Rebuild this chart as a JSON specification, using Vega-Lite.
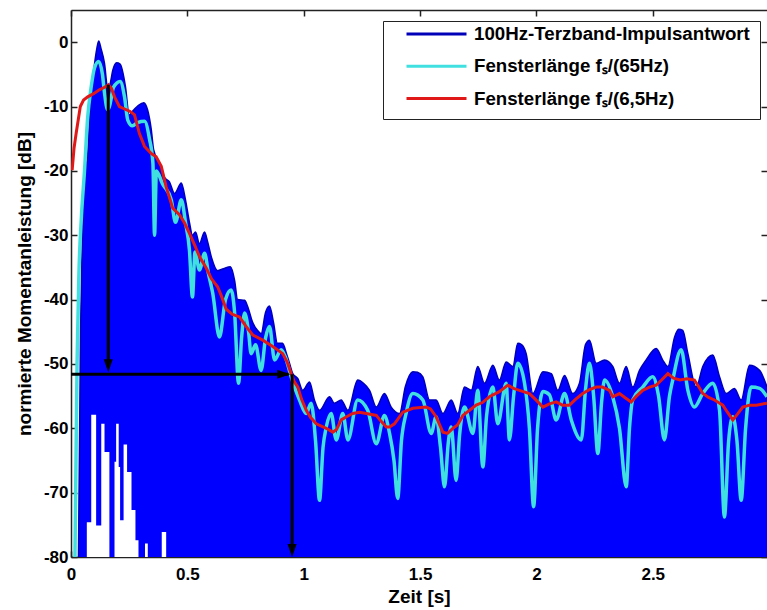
{
 "$schema": "https://vega.github.io/schema/vega-lite/v6.json",
 "width": 696, "height": 547,
 "autosize": {"type": "none"},
 "padding": {"left": 71, "top": 10, "right": 0, "bottom": 53},
 "background": "white",
 "datasets": {
  "env": [{"t":0.032,"db":-80},{"t":0.041,"db":-45},{"t":0.048,"db":-32},{"t":0.058,"db":-21.5},{"t":0.072,"db":-17.3},{"t":0.083,"db":-9.5},{"t":0.098,"db":-4.3},{"t":0.11,"db":-1.2},{"t":0.119,"db":0.2},{"t":0.129,"db":-1},{"t":0.144,"db":-3.3},{"t":0.158,"db":-7.3},{"t":0.168,"db":-6.5},{"t":0.18,"db":-4.3},{"t":0.196,"db":-3.2},{"t":0.211,"db":-3.4},{"t":0.234,"db":-6.9},{"t":0.25,"db":-11.3},{"t":0.268,"db":-10.6},{"t":0.29,"db":-9.8},{"t":0.313,"db":-9.4},{"t":0.329,"db":-10.5},{"t":0.345,"db":-13.6},{"t":0.355,"db":-16.7},{"t":0.38,"db":-18.8},{"t":0.402,"db":-21},{"t":0.423,"db":-21.7},{"t":0.445,"db":-23.5},{"t":0.474,"db":-21.9},{"t":0.492,"db":-24.5},{"t":0.509,"db":-28},{"t":0.522,"db":-30},{"t":0.535,"db":-29.5},{"t":0.552,"db":-31.3},{"t":0.574,"db":-29.5},{"t":0.587,"db":-31},{"t":0.604,"db":-33.5},{"t":0.63,"db":-35.5},{"t":0.655,"db":-35.2},{"t":0.685,"db":-34.9},{"t":0.703,"db":-37},{"t":0.716,"db":-40},{"t":0.746,"db":-40.1},{"t":0.763,"db":-41.5},{"t":0.78,"db":-43.5},{"t":0.802,"db":-44.8},{"t":0.817,"db":-45.3},{"t":0.836,"db":-42},{"t":0.853,"db":-41},{"t":0.87,"db":-43.5},{"t":0.887,"db":-46.8},{"t":0.909,"db":-46.8},{"t":0.926,"db":-48.4},{"t":0.939,"db":-49.9},{"t":0.953,"db":-51.5},{"t":0.975,"db":-52.3},{"t":0.996,"db":-54.1},{"t":1.025,"db":-52.8},{"t":1.046,"db":-55.6},{"t":1.068,"db":-57.2},{"t":1.111,"db":-55.1},{"t":1.132,"db":-56.1},{"t":1.161,"db":-55.6},{"t":1.19,"db":-57.2},{"t":1.232,"db":-52.5},{"t":1.257,"db":-53},{"t":1.283,"db":-54.1},{"t":1.312,"db":-56.7},{"t":1.347,"db":-54.6},{"t":1.376,"db":-56.7},{"t":1.412,"db":-57.7},{"t":1.437,"db":-53.5},{"t":1.469,"db":-51.2},{"t":1.489,"db":-51.3},{"t":1.512,"db":-52},{"t":1.541,"db":-55.6},{"t":1.569,"db":-55.6},{"t":1.598,"db":-57.7},{"t":1.634,"db":-55.6},{"t":1.662,"db":-57.7},{"t":1.691,"db":-53.6},{"t":1.72,"db":-54.1},{"t":1.748,"db":-50.4},{"t":1.777,"db":-53},{"t":1.813,"db":-50.2},{"t":1.841,"db":-52.5},{"t":1.87,"db":-49.7},{"t":1.899,"db":-50.4},{"t":1.92,"db":-46.8},{"t":1.936,"db":-47},{"t":1.956,"db":-48.4},{"t":1.985,"db":-54.6},{"t":2.028,"db":-51.2},{"t":2.064,"db":-51.5},{"t":2.092,"db":-54.1},{"t":2.121,"db":-51.8},{"t":2.156,"db":-54.6},{"t":2.185,"db":-53},{"t":2.211,"db":-47},{"t":2.228,"db":-46.3},{"t":2.257,"db":-49.9},{"t":2.293,"db":-49.4},{"t":2.328,"db":-50.4},{"t":2.357,"db":-53},{"t":2.386,"db":-50.4},{"t":2.414,"db":-53.6},{"t":2.443,"db":-51},{"t":2.471,"db":-49.4},{"t":2.515,"db":-47.6},{"t":2.543,"db":-49.4},{"t":2.565,"db":-50.4},{"t":2.594,"db":-45.8},{"t":2.611,"db":-44.6},{"t":2.629,"db":-44.8},{"t":2.651,"db":-48.4},{"t":2.687,"db":-53.6},{"t":2.715,"db":-50.4},{"t":2.758,"db":-48.6},{"t":2.787,"db":-52},{"t":2.816,"db":-54.6},{"t":2.851,"db":-53.8},{"t":2.88,"db":-55.6},{"t":2.916,"db":-50.2},{"t":2.959,"db":-51},{"t":2.991,"db":-53.6}],
  "white": [{"t":0.068,"db":-74.6},{"t":0.087,"db":-57.9},{"t":0.108,"db":-75.1},{"t":0.13,"db":-59.3},{"t":0.144,"db":-63.7},{"t":0.165,"db":-80},{"t":0.187,"db":-65.2},{"t":0.194,"db":-59.3},{"t":0.205,"db":-66},{"t":0.211,"db":-74.3},{"t":0.226,"db":-62.5},{"t":0.241,"db":-66.8},{"t":0.26,"db":-72.7},{"t":0.277,"db":-77.4},{"t":0.29,"db":-80},{"t":0.318,"db":-77.9},{"t":0.33,"db":-80},{"t":0.39,"db":-76.1},{"t":0.409,"db":-80}],
  "cyan": [{"t":0.017,"db":-80},{"t":0.026,"db":-50},{"t":0.034,"db":-36},{"t":0.045,"db":-27},{"t":0.058,"db":-20},{"t":0.071,"db":-12},{"t":0.087,"db":-6.9},{"t":0.101,"db":-4},{"t":0.119,"db":-3},{"t":0.135,"db":-5},{"t":0.144,"db":-7.9},{"t":0.157,"db":-10.5},{"t":0.165,"db":-10},{"t":0.183,"db":-7},{"t":0.211,"db":-6.1},{"t":0.23,"db":-8.5},{"t":0.244,"db":-12.1},{"t":0.264,"db":-13},{"t":0.286,"db":-12.5},{"t":0.316,"db":-12.3},{"t":0.337,"db":-15},{"t":0.352,"db":-18.8},{"t":0.359,"db":-30},{"t":0.367,"db":-20},{"t":0.393,"db":-22},{"t":0.431,"db":-24.5},{"t":0.449,"db":-28},{"t":0.474,"db":-24.5},{"t":0.492,"db":-28},{"t":0.509,"db":-32.3},{"t":0.522,"db":-39.6},{"t":0.533,"db":-32.6},{"t":0.552,"db":-35.4},{"t":0.574,"db":-32.8},{"t":0.591,"db":-36},{"t":0.609,"db":-39},{"t":0.638,"db":-45.8},{"t":0.664,"db":-40},{"t":0.688,"db":-38.5},{"t":0.703,"db":-42},{"t":0.72,"db":-53},{"t":0.733,"db":-46},{"t":0.746,"db":-42.1},{"t":0.763,"db":-45},{"t":0.774,"db":-48.4},{"t":0.793,"db":-47},{"t":0.817,"db":-51},{"t":0.836,"db":-46},{"t":0.853,"db":-44.2},{"t":0.875,"db":-49.4},{"t":0.903,"db":-47.8},{"t":0.922,"db":-49},{"t":0.946,"db":-52},{"t":0.982,"db":-55.6},{"t":1.011,"db":-57.7},{"t":1.032,"db":-56.1},{"t":1.051,"db":-62},{"t":1.068,"db":-71.2},{"t":1.083,"db":-63},{"t":1.097,"db":-59.8},{"t":1.118,"db":-57.7},{"t":1.14,"db":-61.8},{"t":1.168,"db":-57.7},{"t":1.19,"db":-61.8},{"t":1.232,"db":-55.6},{"t":1.275,"db":-57.2},{"t":1.312,"db":-62.4},{"t":1.347,"db":-58},{"t":1.369,"db":-60.8},{"t":1.388,"db":-65},{"t":1.404,"db":-70.9},{"t":1.42,"db":-62},{"t":1.44,"db":-57.7},{"t":1.469,"db":-54.6},{"t":1.512,"db":-55.6},{"t":1.548,"db":-60.8},{"t":1.569,"db":-58.2},{"t":1.588,"db":-63},{"t":1.605,"db":-69.1},{"t":1.622,"db":-62},{"t":1.634,"db":-59.8},{"t":1.655,"db":-68.1},{"t":1.67,"db":-61},{"t":1.691,"db":-56.7},{"t":1.727,"db":-60.8},{"t":1.748,"db":-54.1},{"t":1.77,"db":-66},{"t":1.786,"db":-58},{"t":1.813,"db":-53.6},{"t":1.834,"db":-59.3},{"t":1.87,"db":-53},{"t":1.884,"db":-61.8},{"t":1.902,"db":-55},{"t":1.92,"db":-49.9},{"t":1.949,"db":-53},{"t":1.97,"db":-60},{"t":1.988,"db":-72.2},{"t":2.005,"db":-60},{"t":2.028,"db":-54.3},{"t":2.056,"db":-54.8},{"t":2.085,"db":-58.7},{"t":2.121,"db":-54.6},{"t":2.15,"db":-58.7},{"t":2.193,"db":-61.8},{"t":2.211,"db":-54},{"t":2.228,"db":-49.9},{"t":2.246,"db":-55},{"t":2.264,"db":-63.9},{"t":2.28,"db":-56},{"t":2.293,"db":-52.5},{"t":2.328,"db":-55.1},{"t":2.357,"db":-60},{"t":2.386,"db":-69.1},{"t":2.4,"db":-60},{"t":2.414,"db":-55.6},{"t":2.457,"db":-53.6},{"t":2.5,"db":-52},{"t":2.525,"db":-55},{"t":2.55,"db":-61.8},{"t":2.572,"db":-55},{"t":2.586,"db":-52.5},{"t":2.622,"db":-47.8},{"t":2.651,"db":-54.1},{"t":2.679,"db":-56.7},{"t":2.715,"db":-54.6},{"t":2.758,"db":-53},{"t":2.787,"db":-57.2},{"t":2.808,"db":-73.8},{"t":2.826,"db":-62},{"t":2.844,"db":-58.2},{"t":2.862,"db":-62},{"t":2.88,"db":-71.2},{"t":2.899,"db":-60},{"t":2.923,"db":-53.6},{"t":2.959,"db":-53.8},{"t":2.991,"db":-55.1}],
  "red": [{"t":0.005,"db":-19.9},{"t":0.013,"db":-16.5},{"t":0.022,"db":-14.2},{"t":0.04,"db":-10},{"t":0.054,"db":-9},{"t":0.072,"db":-8.5},{"t":0.097,"db":-8},{"t":0.122,"db":-7.4},{"t":0.144,"db":-7},{"t":0.161,"db":-6.6},{"t":0.174,"db":-7.2},{"t":0.187,"db":-8.5},{"t":0.208,"db":-10},{"t":0.237,"db":-10.5},{"t":0.256,"db":-10.8},{"t":0.273,"db":-11.3},{"t":0.294,"db":-14.2},{"t":0.316,"db":-16.2},{"t":0.345,"db":-17.3},{"t":0.366,"db":-17.8},{"t":0.388,"db":-19.3},{"t":0.409,"db":-22.5},{"t":0.437,"db":-25.8},{"t":0.466,"db":-26.8},{"t":0.488,"db":-28.1},{"t":0.509,"db":-29.7},{"t":0.531,"db":-31.5},{"t":0.552,"db":-33.3},{"t":0.581,"db":-35.1},{"t":0.604,"db":-36.8},{"t":0.63,"db":-38},{"t":0.647,"db":-39.5},{"t":0.667,"db":-41.5},{"t":0.694,"db":-42.3},{"t":0.724,"db":-42.7},{"t":0.753,"db":-44.2},{"t":0.781,"db":-45.5},{"t":0.824,"db":-46.3},{"t":0.867,"db":-47.3},{"t":0.91,"db":-48.4},{"t":0.93,"db":-49.8},{"t":0.946,"db":-51.5},{"t":0.96,"db":-52.8},{"t":0.975,"db":-53.6},{"t":0.991,"db":-55.5},{"t":1.011,"db":-57.2},{"t":1.029,"db":-58.3},{"t":1.054,"db":-59.3},{"t":1.097,"db":-60},{"t":1.125,"db":-60.6},{"t":1.141,"db":-60.2},{"t":1.161,"db":-58.7},{"t":1.184,"db":-58.2},{"t":1.211,"db":-57.7},{"t":1.24,"db":-57.5},{"t":1.269,"db":-57.7},{"t":1.312,"db":-58},{"t":1.33,"db":-58.8},{"t":1.355,"db":-59.8},{"t":1.369,"db":-59.8},{"t":1.39,"db":-59.3},{"t":1.426,"db":-57.5},{"t":1.469,"db":-56.9},{"t":1.526,"db":-56.7},{"t":1.545,"db":-57},{"t":1.569,"db":-58.2},{"t":1.598,"db":-60.6},{"t":1.618,"db":-60.8},{"t":1.641,"db":-60},{"t":1.661,"db":-59.5},{"t":1.684,"db":-58},{"t":1.713,"db":-57.2},{"t":1.741,"db":-56.4},{"t":1.768,"db":-56},{"t":1.798,"db":-55.1},{"t":1.841,"db":-54.3},{"t":1.877,"db":-53.3},{"t":1.902,"db":-53.8},{"t":1.927,"db":-54.1},{"t":1.97,"db":-54.6},{"t":1.996,"db":-55.5},{"t":2.028,"db":-56.7},{"t":2.056,"db":-56.2},{"t":2.085,"db":-55.9},{"t":2.112,"db":-56.4},{"t":2.142,"db":-56.4},{"t":2.168,"db":-55.5},{"t":2.199,"db":-54.6},{"t":2.228,"db":-54},{"t":2.257,"db":-53.6},{"t":2.284,"db":-53.6},{"t":2.314,"db":-54.1},{"t":2.328,"db":-55.1},{"t":2.357,"db":-54.6},{"t":2.383,"db":-55.3},{"t":2.407,"db":-55.9},{"t":2.43,"db":-55},{"t":2.457,"db":-54.1},{"t":2.486,"db":-53.6},{"t":2.515,"db":-53.3},{"t":2.538,"db":-52.5},{"t":2.565,"db":-51.5},{"t":2.589,"db":-52.2},{"t":2.617,"db":-52.5},{"t":2.647,"db":-52.3},{"t":2.679,"db":-52.5},{"t":2.697,"db":-53.5},{"t":2.715,"db":-54.6},{"t":2.74,"db":-55.2},{"t":2.765,"db":-55.6},{"t":2.801,"db":-56.4},{"t":2.821,"db":-57.5},{"t":2.844,"db":-58.7},{"t":2.864,"db":-57.8},{"t":2.887,"db":-56.7},{"t":2.916,"db":-56.4},{"t":2.945,"db":-56.4},{"t":2.991,"db":-56.1}],
  "arrows": [{"t":0.16,"db":-6.6,"t2":0.16,"db2":-50.5},{"t":0,"db":-51.6,"t2":0.935,"db2":-51.6},{"t":0.95,"db":-51.6,"t2":0.95,"db2":-79}],
  "heads": [{"t":0.16,"db":-51.3,"dir":"down"},{"t":0.942,"db":-51.6,"dir":"right"},{"t":0.95,"db":-80,"dir":"down"}]
 },
 "encoding": {
  "x": {"field": "t", "type": "quantitative", "scale": {"domain": [0, 2.991], "nice": false, "zero": false}, "axis": null},
  "y": {"field": "db", "type": "quantitative", "scale": {"domain": [-80, 5], "nice": false, "zero": false}, "axis": null}
 },
 "layer": [
  {"data": {"name": "env"},
   "mark": {"type": "area", "interpolate": "monotone", "fill": "#0000ff", "clip": true},
   "encoding": {
    "x": {"field": "t", "type": "quantitative", "scale": {"domain": [0, 2.991], "nice": false, "zero": false},
          "axis": {"orient": "bottom", "title": "Zeit [s]", "values": [0, 0.5, 1, 1.5, 2, 2.5, 3], "labelExpr": "'' + datum.value", "tickSize": -6, "labelPadding": 15, "titlePadding": 5, "labelFlush": false, "labelOverlap": false}},
    "y": {"field": "db", "type": "quantitative", "scale": {"domain": [-80, 5], "nice": false, "zero": false},
          "axis": {"orient": "left", "title": "normierte Momentanleistung [dB]", "values": [-80, -70, -60, -50, -40, -30, -20, -10, 0], "labelExpr": "'' + datum.value", "tickSize": -6, "labelPadding": 9, "titlePadding": 9, "labelFlush": false, "labelOverlap": false}},
    "y2": {"datum": -80}
   }},
  {"data": {"name": "white"},
   "mark": {"type": "area", "interpolate": "step-after", "fill": "white", "clip": true},
   "encoding": {
    "x": {"field": "t", "type": "quantitative", "scale": {"domain": [0, 2.991], "nice": false, "zero": false},
          "axis": {"orient": "top", "title": null, "labels": false, "values": [0, 0.5, 1, 1.5, 2, 2.5], "tickSize": -6}},
    "y": {"field": "db", "type": "quantitative", "scale": {"domain": [-80, 5], "nice": false, "zero": false},
          "axis": {"orient": "right", "title": null, "labels": false, "domain": false, "values": [-80, -70, -60, -50, -40, -30, -20, -10, 0], "tickSize": -6}},
    "y2": {"datum": -80}
   }},
  {"data": {"name": "env"},
   "mark": {"type": "line", "interpolate": "monotone", "strokeWidth": 1.5, "clip": true},
   "encoding": {
    "color": {"datum": "100Hz-Terzband-Impulsantwort", "type": "nominal",
      "scale": {"domain": ["100Hz-Terzband-Impulsantwort", "Fensterlänge fₛ/(65Hz)", "Fensterlänge fₛ/(6,5Hz)"], "range": ["#0000b8", "#40e0e0", "#e01818"]},
      "legend": {"orient": "none", "legendX": 312, "legendY": 11, "title": null, "symbolType": "stroke", "symbolSize": 3600, "symbolStrokeWidth": 3, "clipHeight": 6, "rowPadding": 13.3, "padding": 10, "symbolOffset": 12, "labelOffset": 6, "labelLimit": 400, "strokeColor": "#222222", "fillColor": "white", "labelFont": "Liberation Sans", "labelFontSize": 18.7, "labelFontWeight": "bold", "labelColor": "black"}}
   }},
  {"data": {"name": "cyan"},
   "mark": {"type": "line", "interpolate": "monotone", "strokeWidth": 3.5, "clip": true},
   "encoding": {"color": {"datum": "Fensterlänge fₛ/(65Hz)", "type": "nominal"}}},
  {"data": {"name": "red"},
   "mark": {"type": "line", "strokeWidth": 3, "clip": true},
   "encoding": {"color": {"datum": "Fensterlänge fₛ/(6,5Hz)", "type": "nominal"}}},
  {"data": {"name": "arrows"},
   "mark": {"type": "rule", "strokeWidth": 3, "color": "black"},
   "encoding": {"x2": {"field": "t2"}, "y2": {"field": "db2"}}},
  {"data": {"name": "heads"},
   "mark": {"type": "point", "filled": true, "color": "black", "opacity": 1, "size": 169},
   "encoding": {"shape": {"field": "dir", "type": "nominal", "scale": {"domain": ["down", "right"], "range": ["M-0.7,-2L0.7,-2L0,0Z", "M-2,-0.7L-2,0.7L0,0Z"]}, "legend": null}}}
 ],
 "resolve": {"axis": {"x": "independent", "y": "independent"}},
 "config": {
  "view": {"stroke": null},
  "font": "Liberation Sans",
  "axis": {"grid": false, "domainColor": "#222222", "domainWidth": 1.5, "tickColor": "#222222", "tickWidth": 1.5, "labelColor": "black", "titleColor": "black", "labelFont": "Liberation Sans", "labelFontSize": 17, "labelFontWeight": "bold", "titleFont": "Liberation Sans", "titleFontSize": 19, "titleFontWeight": "bold"}
 }
}
